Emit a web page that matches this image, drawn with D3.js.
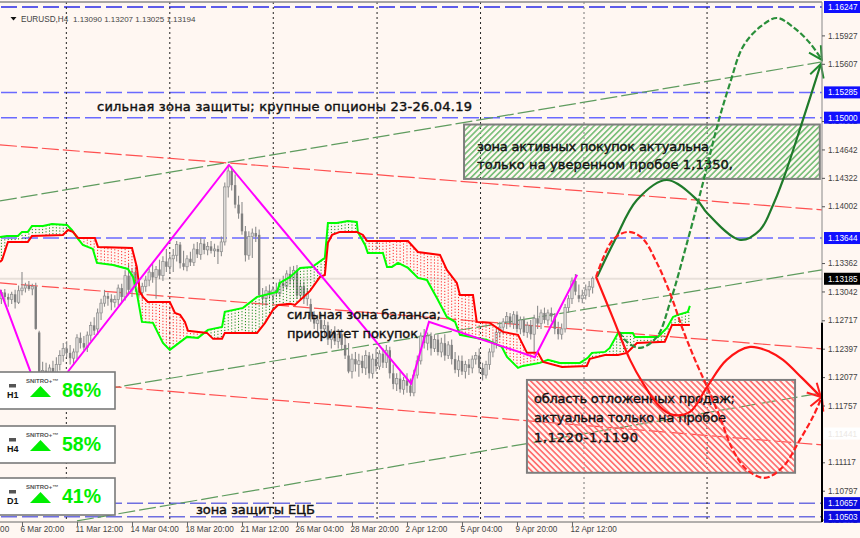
<!DOCTYPE html>
<html><head><meta charset="utf-8">
<script src="https://cdn.jsdelivr.net/npm/d3@7/dist/d3.min.js"></script>
<style>
html,body{margin:0;padding:0;background:#fff7f2;overflow:hidden}
svg{display:block}
</style></head><body><svg id="c" width="860" height="538"></svg>
<script>
// ---- data: x = H4 bar index, prices in 1e-5 units ----
const xTickBars=[-10,6,22,38,54,70,86,102,118,134,150,166];
const xTickLabels=["4 Mar 04:00","6 Mar 20:00","11 Mar 12:00","14 Mar 04:00","18 Mar 20:00","21 Mar 12:00","26 Mar 04:00","28 Mar 20:00","2 Apr 12:00","5 Apr 04:00","9 Apr 20:00","12 Apr 12:00"];
const yTicks=[115927,115607,114962,114642,114322,114002,113362,113042,112717,112397,112077,111757,111117,110797,110472];
const separators=[18.9,49,79.1,109.3,139.4,169.5,205.3];
const blueLevels=[116247,115285,115000,113644,110657,110503];
const lastPrice=113185;
const faintLabel=111441;
// candles: open, high, low, close in pips above 1.1000
const candles=[
[296,306,290,303],[303,307,292,298],[298,302,287,295],[295,304,290,301],[301,306,285,292],[292,311,290,305],[305,326,300,308],[308,314,303,311],[311,316,305,307],[307,313,300,310],
[310,314,261,262],[258,260,186,192],[192,225,188,215],[215,224,207,210],[210,222,200,218],[218,226,208,212],[212,230,205,222],[222,238,215,232],[232,246,225,240],[240,248,230,235],
[235,244,222,229],[229,240,222,236],[236,256,228,252],[252,258,240,246],[246,254,238,241],[241,259,236,255],[255,270,248,266],[266,275,255,260],[262,285,255,280],[280,296,272,291],
[291,306,287,299],[299,303,288,296],[296,301,283,292],[292,300,286,295],[295,312,288,308],[308,313,292,298],[298,328,294,322],[322,335,300,306],[306,330,298,326],[326,332,304,309],
[309,316,298,303],[303,314,295,310],[310,322,304,317],[317,330,310,326],[326,335,314,320],[320,333,296,329],[329,340,318,322],[322,344,316,338],[338,352,326,332],[332,346,324,341],
[341,352,326,345],[345,361,338,357],[357,360,330,336],[336,350,328,332],[332,345,327,341],[341,349,333,337],[337,358,333,352],[352,360,342,346],[346,365,340,358],[358,363,346,351],
[351,360,345,355],[355,361,347,350],[350,358,343,352],[352,356,335,349],[349,366,344,360],[360,427,356,422],[422,447,410,440],[440,445,418,424],[424,436,398,402],[402,412,386,392],
[392,405,368,372],[372,378,338,345],[345,372,340,366],[366,375,342,370],[370,377,360,366],[368,374,298,300],[300,308,290,296],[296,310,288,305],[305,312,296,300],[300,310,293,306],
[306,314,298,302],[302,318,298,314],[314,322,305,310],[310,328,306,324],[324,332,312,318],[318,333,308,328],[328,334,296,300],[300,316,294,310],[310,315,290,296],[296,308,288,302],
[290,296,270,276],[276,282,262,268],[268,278,258,272],[272,280,258,262],[262,272,254,266],[266,270,244,250],[250,262,240,258],[258,265,244,248],[248,262,240,256],[256,262,238,244],
[244,256,228,232],[232,246,212,214],[214,234,206,228],[228,236,214,222],[222,234,208,226],[226,232,212,218],[218,238,210,232],[232,236,206,212],[212,234,206,228],[228,240,214,220],
[220,238,216,234],[234,240,218,224],[224,244,218,238],[238,242,206,212],[212,222,194,200],[200,212,192,206],[206,214,190,194],[194,208,188,204],[204,212,190,198],[198,206,186,190],
[190,216,186,210],[210,232,206,226],[226,258,222,254],[254,262,240,246],[246,258,238,254],[254,258,232,240],[240,256,236,250],[250,256,232,236],[236,252,230,246],[246,256,226,232],
[232,248,228,244],[244,250,222,228],[228,236,212,216],[216,232,208,226],[226,232,210,214],[214,226,206,222],[222,228,210,218],[218,232,212,228],[228,236,222,232],[232,240,212,218],
[218,224,204,210],[210,226,206,222],[222,240,216,236],[236,250,230,246],[246,262,240,258],[258,270,252,264],[264,274,256,270],[270,281,262,276],[276,280,264,268],[268,282,262,278],
[278,282,258,262],[262,276,256,272],[272,276,254,258],[258,270,252,266],[266,272,250,256],[256,278,235,274],[274,288,262,268],[268,284,262,280],[280,286,268,272],[272,284,266,280],
[280,286,270,276],[276,280,256,262],[262,270,250,256],[256,268,250,262],[262,290,258,286],[286,300,280,296],[296,320,290,316],[316,324,300,304],[300,312,292,296],[296,306,291,300],
[300,312,295,306],[306,316,298,310],[309,321,302,319]];
const greenSpan=[[-0.4,113656],[1.6,113668],[4.8,113668],[6,113713],[7.7,113713],[8.9,113780],[12.1,113780],[14.7,113803],[19.1,113792],[20.5,113735],[22.3,113634],[23.7,113566],[26.6,113521],[27.8,113364],[32.5,113341],[36.8,113296],[38.3,113206],[39.4,113026],[40.9,112699],[44.1,112688],[47,112462],[49,112384],[54,112530],[57.2,112519],[60.1,112609],[64.2,112643],[65,112812],[70.3,112857],[74.4,112981],[80.2,113037],[81,113138],[84,113206],[86.9,113307],[90.4,113318],[94.1,113420],[95,113814],[97.6,113814],[100.8,113837],[103.4,113825],[103.7,113713],[105.8,113566],[106.6,113476],[111,113476],[112.2,113318],[113.6,113318],[115.4,113364],[118.3,113307],[121.2,113195],[123.8,113172],[126.7,112969],[129.6,112755],[132,112699],[133.4,112553],[141.3,112496],[145.6,112417],[147.1,112305],[150.3,112181],[151.7,112203],[156.7,112237],[159,112271],[162.5,112237],[168.3,112237],[170.6,112294],[171.8,112350],[175.6,112361],[177,112406],[179.4,112575],[183.7,112575],[184.3,112530],[191,112530],[193.6,112631],[195.4,112755],[196.8,112778],[199.7,112812],[200.3,112879]];
const redSpan=[[-0.4,113375],[0.2,113397],[1.9,113600],[7.7,113600],[8.9,113668],[17.9,113679],[19.4,113735],[20.8,113713],[22.3,113645],[27.2,113645],[28.1,113544],[38,113533],[39.4,113318],[40.3,113037],[41.2,112981],[42.6,112924],[49,112924],[50.5,112800],[52,112778],[53.4,112699],[54.3,112598],[59.8,112575],[61.6,112508],[64.2,112508],[65,112575],[74.4,112575],[76.7,112688],[79,112834],[80.5,112890],[84,112902],[85.4,112890],[89.8,113048],[92.7,113206],[94.1,113228],[95,113589],[96.2,113679],[98.5,113713],[103.4,113713],[105.2,113679],[106.4,113611],[118.3,113611],[121.2,113487],[127.6,113454],[129.6,113285],[132.5,113138],[133.4,113003],[137.2,113003],[138.3,112699],[142.1,112688],[145.9,112586],[150.3,112553],[152.9,112350],[156.1,112350],[157.6,112248],[163.1,112192],[170.3,112203],[171.2,112282],[175.6,112327],[179.4,112327],[182,112350],[184.9,112462],[193,112474],[195.1,112665],[200.3,112665]];
const zigzag=[[-0.4,113060],[12,111770],[19.4,112140],[66.2,114467],[119.2,112002],[124.4,112700],[155.2,112300],[167.5,113230]];
const greenTrends=[[[-0.4,114062],[238.7,115628]],[[-0.4,111745],[238.7,113285]],[[22,110457],[238.7,111899]]];
const redTrends=[[[-0.4,114693],[238.7,113961]],[[-0.4,113138],[238.7,112395]],[[-0.4,112073],[238.7,111313]]];
const arrowGreenSolid=[[173.3,113206],[178.5,113623],[184.9,114073],[193.6,114298],[202.4,114073],[205.3,113927],[214.9,113623],[220.7,113735],[224.5,114017],[227.4,114298],[233,114952],[238.4,115605]];
const arrowGreenDash=[[179.7,112586],[182,112474],[185.8,112406],[190.7,112530],[194.5,112913],[199.7,113623],[204.1,114265],[208.5,114941],[212,115391],[215.7,115797],[220.7,116022],[225.6,116123],[230.3,116022],[235.2,115842],[238.7,115650]];
const arrowRedDash=[[173,113206],[177.9,113623],[182.3,113713],[186.4,113645],[190.7,113364],[194.5,113026],[198.3,112609],[201.8,112271],[205.3,111967],[209,111629],[212.8,111257],[216.9,111032],[222.1,110942],[227.4,111066],[232.3,111370],[236.1,111629],[238.7,111854]];
const arrowRedSolid=[[173,113206],[177.9,112744],[182.9,112271],[186.6,112012],[191.6,111742],[195.4,111651],[200.3,111685],[205.3,111967],[211,112271],[217.8,112417],[223.6,112361],[227.4,112271],[232.9,112068],[238.4,111854]];
const greenZone=[[134.6,114923],[238.1,114310]];
const redZone=[[152.9,112045],[230.9,110999]];
const timeframes=["H1","H4","D1"];
const strengths=["86%","58%","41%"];
const chartTitle="EURUSD,H4";
const chartOHLC="1.13090 1.13207 1.13025 1.13194";
const notes=["сильная зона защиты; крупные опционы 23-26.04.19","зона активных покупок актуальна","только на уверенном пробое 1,1350,","сильная зона баланса;","приоритет покупок","область отложенных продаж;","актуальна только на пробое","1,1220-1,1190","зона защиты ЕЦБ"];

// ---- layout ----
const noteLayout=[[97,111,375],[477,151,232],[477,169,256],[287,319,154],[287,338,131],[534,403,201],[534,422,192],[534,442,104],[196,514,119]];
const plot={l:0,r:822,t:2,b:522};
const x=d3.scaleLinear().domain([0,239]).range([1.375,822.9]);
const y=d3.scaleLinear().domain([116247,110503]).range([7,516.8]);
const pipY=v=>y(110000+v*10);
const line=d3.line().x(d=>x(d[0])).y(d=>y(d[1]));
const curve=d3.line().x(d=>x(d[0])).y(d=>y(d[1])).curve(d3.curveCatmullRom.alpha(0.5));

const svg=d3.select("#c");
const defs=svg.append("defs");
defs.append("clipPath").attr("id","clip").append("rect").attr("x",plot.l).attr("y",plot.t).attr("width",plot.r-plot.l+1).attr("height",plot.b-plot.t);
function hatch(id,color,angle){
  const p=defs.append("pattern").attr("id",id).attr("width",4.2).attr("height",4.2).attr("patternUnits","userSpaceOnUse").attr("patternTransform",`rotate(${angle})`);
  p.append("rect").attr("width",1.7).attr("height",4.2).attr("fill",color);
}
hatch("hGreen","#7cc07c",45);
hatch("hRed","#ff7070",-45);
function arrowHead(id,color){
  defs.append("marker").attr("id",id).attr("markerUnits","userSpaceOnUse").attr("markerWidth",18).attr("markerHeight",18).attr("refX",14).attr("refY",8).attr("orient","auto").attr("overflow","visible")
   .append("path").attr("d","M1,1 L14,8 L1,15").attr("fill","none").attr("stroke",color).attr("stroke-width",2);
}
arrowHead("aGreen","#1f8a2e");
arrowHead("aRed","#ff1f1f");

const g=svg.append("g").attr("clip-path","url(#clip)");
// price line
g.append("line").attr("x1",plot.l).attr("x2",plot.r).attr("y1",y(lastPrice)).attr("y2",y(lastPrice)).attr("stroke","#e8e0da").attr("stroke-width",2);
// blue levels
g.selectAll(".lv").data(blueLevels).join("line").attr("x1",0).attr("x2",plot.r).attr("y1",d=>y(d)).attr("y2",d=>y(d))
 .attr("stroke",(d,i)=>i==0?"#2a2ae6":i>3?"#6f6fe0":"#6a6aff").attr("stroke-width",1.5).attr("stroke-dasharray","16,5").attr("stroke-dashoffset",-1);
// separators
g.selectAll(".sep").data(separators).join("line").attr("x1",d=>x(d)).attr("x2",d=>x(d)).attr("y1",plot.t).attr("y2",plot.b)
 .attr("stroke",(d,i)=>i==5?"#777":"#222").attr("stroke-width",1).attr("stroke-dasharray","2,3");
// channels
g.selectAll(".gt").data(greenTrends).join("path").attr("d",line).attr("fill","none").attr("stroke","#5f9c5f").attr("stroke-width",1.2).attr("stroke-dasharray","17,4");
g.selectAll(".rt").data(redTrends).join("path").attr("d",line).attr("fill","none").attr("stroke","#ff5050").attr("stroke-width",1.2).attr("stroke-dasharray","17,4");
// zones
function zone(z,pat){
  g.append("rect").attr("x",x(z[0][0])).attr("y",y(z[0][1])).attr("width",x(z[1][0])-x(z[0][0])).attr("height",y(z[1][1])-y(z[0][1]))
   .attr("fill",`url(#${pat})`).attr("stroke","#7e7e7e").attr("stroke-width",2);
}
zone(greenZone,"hGreen");
zone(redZone,"hRed");
// candles
const cg=g.append("g");
cg.selectAll("line").data(candles).join("line").attr("x1",(d,i)=>x(i)).attr("x2",(d,i)=>x(i)).attr("y1",d=>pipY(d[1])).attr("y2",d=>pipY(d[2])).attr("stroke","#8d8d8d").attr("stroke-width",1.1);
cg.selectAll("rect").data(candles).join("rect").attr("x",(d,i)=>x(i)-1.2).attr("width",2.4)
 .attr("y",d=>pipY(Math.max(d[0],d[3]))).attr("height",d=>Math.max(1,Math.abs(pipY(d[0])-pipY(d[3]))))
 .attr("fill",d=>d[3]>=d[0]?"#dedbd8":"#7f7f7f").attr("stroke",d=>d[3]>=d[0]?"#8d8d8d":"none").attr("stroke-width",0.7);
// cloud hatch
const gi=d3.scaleLinear().domain(greenSpan.map(d=>d[0])).range(greenSpan.map(d=>d[1]));
const ri=d3.scaleLinear().domain(redSpan.map(d=>d[0])).range(redSpan.map(d=>d[1]));
const bars=d3.range(0,201);
g.selectAll(".h").data(bars).join("line").attr("x1",d=>x(d)).attr("x2",d=>x(d)).attr("y1",d=>y(gi(d))).attr("y2",d=>y(ri(d)))
 .attr("stroke",d=>gi(d)>ri(d)?"#1c8c1c":"#ff2a2a").attr("stroke-width",1).attr("stroke-dasharray","1.2,1.8");
// cloud edges
g.append("path").attr("d",line(greenSpan)).attr("fill","none").attr("stroke","#00ff00").attr("stroke-width",2);
g.append("path").attr("d",line(redSpan)).attr("fill","none").attr("stroke","#ff0000").attr("stroke-width",2);
// zigzag
g.append("path").attr("d",line(zigzag)).attr("fill","none").attr("stroke","#ff00ff").attr("stroke-width",2);

// notes
svg.append("g").selectAll("text").data(notes).join("text").text(d=>d)
 .attr("x",(d,i)=>noteLayout[i][0]).attr("y",(d,i)=>noteLayout[i][1]).attr("textLength",(d,i)=>noteLayout[i][2]).attr("lengthAdjust","spacing")
 .attr("font-family","'DejaVu Sans'").attr("font-size",13).attr("fill","#111").attr("stroke","#111").attr("stroke-width",0.4);

// arrows
const ag=svg.append("g");
ag.append("path").attr("d",curve(arrowGreenSolid)).attr("fill","none").attr("stroke","#1f7a2a").attr("stroke-width",2.2).attr("marker-end","url(#aGreen)");
ag.append("path").attr("d",curve(arrowGreenDash)).attr("fill","none").attr("stroke","#2a8f3a").attr("stroke-width",2.2).attr("stroke-dasharray","6,2.5").attr("marker-end","url(#aGreen)");
ag.append("path").attr("d",curve(arrowRedSolid)).attr("fill","none").attr("stroke","#ff1414").attr("stroke-width",2.2).attr("marker-end","url(#aRed)");
ag.append("path").attr("d",curve(arrowRedDash)).attr("fill","none").attr("stroke","#ff1f1f").attr("stroke-width",2.2).attr("stroke-dasharray","6,2.5").attr("marker-end","url(#aRed)");

// frame
svg.append("line").attr("x1",0).attr("x2",plot.r).attr("y1",plot.t).attr("y2",plot.t).attr("stroke","#8a8a8a").attr("stroke-width",1.5);
// axes
const labelStyle=s=>s.attr("font-family","'Liberation Sans'").attr("font-size",8.2).attr("fill","#444");
const ax=svg.append("g").attr("transform",`translate(0,${plot.b})`).call(d3.axisBottom(x).tickValues(xTickBars).tickFormat((d,i)=>xTickLabels[i]).tickSize(4).tickSizeOuter(0));
ax.select(".domain").attr("d",`M0,0H${plot.r}`).attr("stroke","#666");
ax.selectAll(".tick line").attr("stroke","#666");
ax.selectAll(".tick text").attr("text-anchor","start").attr("dx",-2).attr("y",4).call(labelStyle);
const ay=svg.append("g").attr("transform",`translate(${plot.r},0)`).call(d3.axisRight(y).tickValues(yTicks).tickFormat(d=>(d/1e5).toFixed(5)).tickSize(3).tickSizeOuter(0));
ay.select(".domain").attr("d",`M0,${plot.t}V${plot.b}`).attr("stroke","#888");
ay.selectAll(".tick line").attr("stroke","#555");
ay.selectAll(".tick text").attr("x",6).call(labelStyle);
svg.append("line").attr("x1",plot.r).attr("x2",plot.r).attr("y1",y(112690)).attr("y2",plot.b).attr("stroke","#000").attr("stroke-width",2);

// value tags
function tag(v,bg,fg){
  const t=svg.append("g").attr("transform",`translate(${plot.r+2},${y(v)})`);
  t.append("rect").attr("x",0).attr("y",-6).attr("width",36).attr("height",12).attr("fill",bg);
  t.append("text").text((v/1e5).toFixed(5)).attr("x",4).attr("y",3).attr("font-family","'Liberation Sans'").attr("font-size",8.2).attr("fill",fg);
}
blueLevels.forEach((v,i)=>tag(v,i>3?"#0a0ae0":"#1010ff","#fff"));
tag(lastPrice,"#000","#fff");
tag(faintLabel,"#ffffff","#ece8e4");

// header
svg.append("path").attr("d","M10.5,17 L16.5,17 L13.5,20.5 Z").attr("fill","#111");
svg.append("text").text(chartTitle).attr("x",21).attr("y",22).call(labelStyle);
svg.append("text").text(chartOHLC).attr("x",73).attr("y",22).call(labelStyle).attr("font-size",8);

// signal panels
const panelTops=[372,426,478];
timeframes.forEach((tf,i)=>{
  const p=svg.append("g").attr("transform",`translate(0,${panelTops[i]})`);
  p.append("rect").attr("x",-4).attr("y",0).attr("width",119).attr("height",37).attr("fill","#fff").attr("stroke","#7a7a7a").attr("stroke-width",1.6);
  p.append("rect").attr("x",9).attr("y",12).attr("width",7).attr("height",3.5).attr("fill","#555");
  p.append("text").text(tf).attr("x",7).attr("y",25.5)
   .attr("font-family","'Liberation Sans'").attr("font-weight","bold").attr("font-size",9).attr("fill","#111");
  p.append("text").text("SNITRO+™").attr("x",26).attr("y",10.5)
   .attr("font-family","'Liberation Sans'").attr("font-weight","bold").attr("font-size",6).attr("fill","#555");
  p.append("path").attr("d","M30,25 L51,25 L40.5,14 Z").attr("fill","#00ee00");
  p.append("text").text(strengths[i]).attr("x",62).attr("y",24.5)
   .attr("font-family","'Liberation Sans'").attr("font-weight","bold").attr("font-size",19.5).attr("fill","#00f000");
});
</script></body></html>
